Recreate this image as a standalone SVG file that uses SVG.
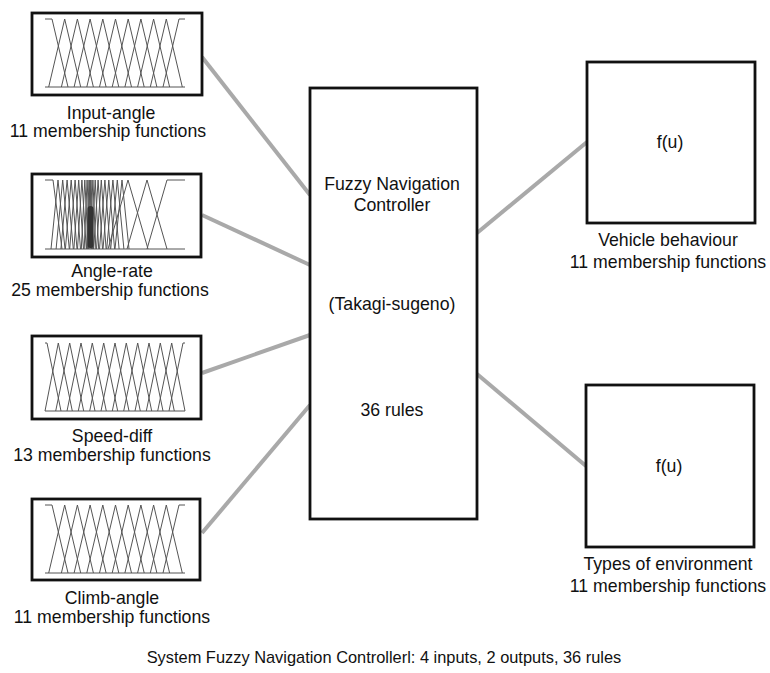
<svg xmlns="http://www.w3.org/2000/svg" xmlns:xlink="http://www.w3.org/1999/xlink" width="770" height="673" viewBox="0 0 770 673">
<style>
  .box { fill: #ffffff; stroke: #111111; stroke-width: 2.8; }
  .mf { fill: none; stroke: #555555; stroke-width: 1; stroke-linejoin: miter; }
  .conn { stroke: #a9a9a9; stroke-width: 4; fill: none; stroke-linecap: butt; }
  .lbl { font-family: "Liberation Sans", Arial, sans-serif; font-size: 17.7px; fill: #111111; text-anchor: middle; }
  .cap { font-family: "Liberation Sans", Arial, sans-serif; font-size: 16.4px; fill: #111111; text-anchor: middle; }
</style>
<defs>
  <path id="mf11" class="mf" d="M0,0 H7 L23,68 M3.7,68 L19.7,0 L35.7,68 M16.4,68 L32.4,0 L48.4,68 M29.1,68 L45.1,0 L61.1,68 M41.8,68 L57.8,0 L73.8,68 M54.5,68 L70.5,0 L86.5,68 M67.2,68 L83.2,0 L99.2,68 M79.9,68 L95.9,0 L111.9,68 M92.6,68 L108.6,0 L124.6,68 M105.3,68 L121.3,0 L137.3,68 M118,68 L134,0 H140 M0,68 H140"/>
  <path id="mf13" class="mf" d="M0,0 H2 L16,68 M0,68 L13.3,0 L27.3,68 M10.7,68 L24.7,0 L38.7,68 M22,68 L36,0 L50,68 M33.3,68 L47.3,0 L61.3,68 M44.7,68 L58.7,0 L72.7,68 M56,68 L70,0 L84,68 M67.3,68 L81.3,0 L95.3,68 M78.7,68 L92.7,0 L106.7,68 M90,68 L104,0 L118,68 M101.3,68 L115.3,0 L129.3,68 M112.7,68 L126.7,0 L140,68 M124,68 L138,0 H140 M0,68 H140"/>
</defs>

<rect width="770" height="673" fill="#ffffff"/>

<g id="connectors">
  <line class="conn" x1="202" y1="57" x2="310" y2="195"/>
  <line class="conn" x1="202" y1="215" x2="310" y2="265"/>
  <line class="conn" x1="202" y1="373" x2="310" y2="335"/>
  <line class="conn" x1="202" y1="533" x2="310" y2="405"/>
  <line class="conn" x1="477" y1="233" x2="587" y2="142"/>
  <line class="conn" x1="477" y1="374" x2="586" y2="466"/>
</g>

<g id="input-angle">
  <rect class="box" x="32" y="13" width="170" height="82"/>
  <use xlink:href="#mf11" transform="translate(45,19)"/>
  <text class="lbl" x="111" y="119">Input-angle</text>
  <text class="lbl" x="108" y="137">11 membership functions</text>
</g>

<g id="angle-rate">
  <rect class="box" x="32" y="174" width="169" height="83"/>
  <path class="mf" d="M45,180 H53 L62,249
    M51,249 L58,180 L65,249
    M56.1,249 L62.7,180 L69.3,249
    M60.9,249 L67.1,180 L73.3,249
    M65.4,249 L71.2,180 L77,249
    M69.7,249 L75.1,180 L80.5,249
    M73.9,249 L78.7,180 L83.5,249
    M77.5,249 L81.9,180 L86.3,249
    M81.3,249 L84.8,180 L88.3,249
    M84.2,249 L87.1,180 L90,249
    M86.5,249 L89,180 L91.5,249
    M87.5,249 L90,180 L92.5,249
    M88.5,249 L91,180 L93.5,249
    M90,249 L92.9,180 L95.8,249
    M91.7,249 L95.2,180 L98.7,249
    M93.7,249 L98.1,180 L102.5,249
    M96.5,249 L101.3,180 L106.1,249
    M99.5,249 L104.9,180 L110.3,249
    M103,249 L108.8,180 L114.6,249
    M106.7,249 L112.9,180 L119.1,249
    M110.7,249 L117.3,180 L123.9,249
    M115,249 L122,180 L129,249
    M108,249 L128,180 L148,249
    M127,249 L147,180 L167,249
    M147,249 L167,180 H185
    M45,249 H185"/>
  <rect x="87.5" y="206" width="6" height="42" rx="3" fill="#333333"/>
  <text class="lbl" x="112" y="277">Angle-rate</text>
  <text class="lbl" x="110" y="296">25 membership functions</text>
</g>

<g id="speed-diff">
  <rect class="box" x="32" y="336" width="169" height="83"/>
  <use xlink:href="#mf13" transform="translate(45,343)"/>
  <text class="lbl" x="112" y="442">Speed-diff</text>
  <text class="lbl" x="112" y="461">13 membership functions</text>
</g>

<g id="climb-angle">
  <rect class="box" x="32" y="499" width="168" height="81"/>
  <use xlink:href="#mf11" transform="translate(45,505)"/>
  <text class="lbl" x="112" y="604">Climb-angle</text>
  <text class="lbl" x="112" y="623">11 membership functions</text>
</g>

<g id="controller">
  <rect class="box" x="310" y="88" width="167" height="431"/>
  <text class="lbl" x="392" y="190">Fuzzy Navigation</text>
  <text class="lbl" x="392" y="211">Controller</text>
  <text class="lbl" x="392" y="310">(Takagi-sugeno)</text>
  <text class="lbl" x="392" y="416">36 rules</text>
</g>

<g id="vehicle-behaviour">
  <rect class="box" x="587" y="62" width="168" height="161"/>
  <text class="lbl" x="670" y="148">f(u)</text>
  <text class="lbl" x="668" y="246">Vehicle behaviour</text>
  <text class="lbl" x="668" y="268">11 membership functions</text>
</g>

<g id="types-of-environment">
  <rect class="box" x="586" y="385" width="168" height="162"/>
  <text class="lbl" x="669" y="472">f(u)</text>
  <text class="lbl" x="668" y="570">Types of environment</text>
  <text class="lbl" x="668" y="592">11 membership functions</text>
</g>

<text class="cap" x="384" y="663">System Fuzzy Navigation Controllerl: 4 inputs, 2 outputs, 36 rules</text>
</svg>
